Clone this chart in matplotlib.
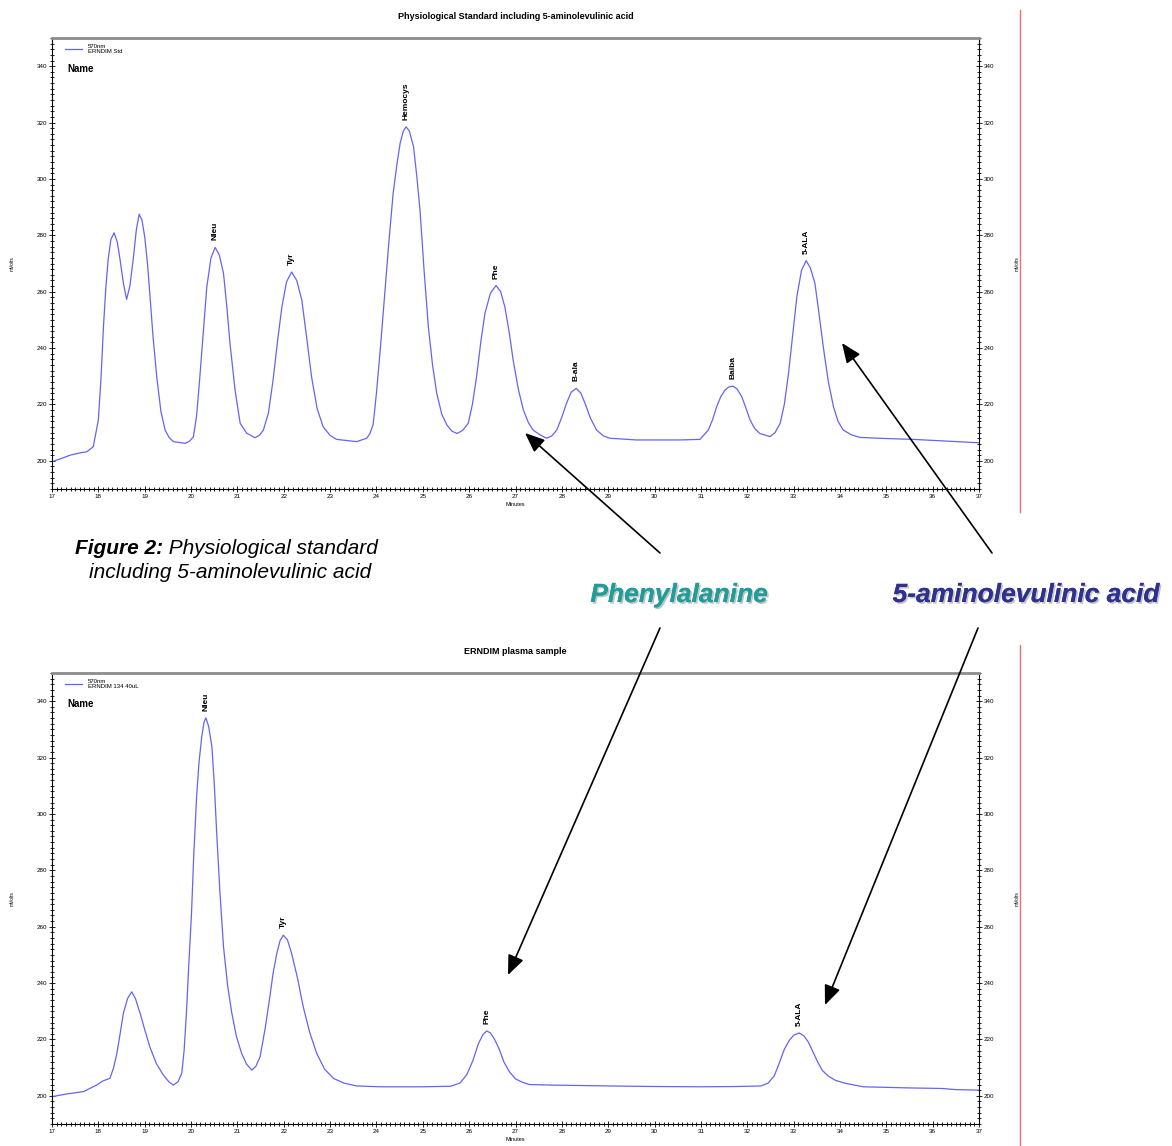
import numpy as np
import matplotlib
matplotlib.use("Agg")
import matplotlib.pyplot as plt
from matplotlib.patches import FancyArrowPatch
from matplotlib.lines import Line2D
from matplotlib.ticker import MultipleLocator
import matplotlib.patheffects as pe

plt.rcParams['font.family'] = ['Liberation Sans', 'DejaVu Sans']

# --- physiological standard trace (minutes, mVolts)
t_std = [17.00, 17.20, 17.39, 17.60, 17.75, 17.89, 18.00, 18.06, 18.11, 18.16, 18.21, 18.27, 18.34, 18.41,
         18.47, 18.54, 18.61, 18.68, 18.75, 18.82, 18.88, 18.94, 19.00, 19.06, 19.11, 19.18, 19.26, 19.35,
         19.44, 19.53, 19.62, 19.87, 19.97, 20.05, 20.12, 20.19, 20.27, 20.34, 20.43, 20.52, 20.61, 20.70,
         20.77, 20.84, 20.95, 21.06, 21.20, 21.38, 21.47, 21.56, 21.67, 21.77, 21.87, 21.96, 22.06, 22.17,
         22.28, 22.39, 22.50, 22.60, 22.72, 22.85, 23.00, 23.14, 23.57, 23.79, 23.86, 23.93, 24.00, 24.09,
         24.18, 24.27, 24.36, 24.44, 24.51, 24.58, 24.64, 24.71, 24.80, 24.87, 24.94, 25.03, 25.12, 25.21,
         25.30, 25.41, 25.52, 25.63, 25.74, 25.86, 25.98, 26.07, 26.16, 26.25, 26.34, 26.46, 26.58, 26.68,
         26.77, 26.86, 26.95, 27.06, 27.17, 27.28, 27.38, 27.52, 27.67, 27.78, 27.89, 28.00, 28.10, 28.20,
         28.31, 28.41, 28.50, 28.62, 28.75, 28.90, 29.04, 29.61, 30.55, 30.98, 31.16, 31.25, 31.34, 31.43,
         31.52, 31.60, 31.69, 31.78, 31.88, 31.97, 32.06, 32.16, 32.27, 32.49, 32.60, 32.71, 32.80, 32.89,
         32.98, 33.07, 33.17, 33.27, 33.36, 33.46, 33.55, 33.64, 33.75, 33.86, 33.96, 34.07, 34.25, 34.43,
         35.00, 35.58, 36.30, 37.00]
mv_std = [199.7, 200.8, 202.0, 202.8, 203.2, 205.0, 214.5, 230.0, 247.5, 261.0, 271.2, 278.5, 280.9, 277.5,
          271.2, 263.0, 257.3, 262.0, 271.2, 282.0, 287.5, 285.5, 279.5, 270.0, 259.4, 244.0, 229.8, 217.5,
          210.9, 208.2, 206.8, 206.2, 207.0, 208.5, 216.0, 229.8, 247.0, 261.7, 272.0, 275.7, 273.0, 266.5,
          255.0, 241.7, 225.0, 213.3, 209.8, 208.2, 209.0, 210.9, 217.0, 228.7, 243.0, 254.6, 263.5, 267.0,
          264.0, 257.0, 243.0, 229.8, 218.5, 212.1, 209.0, 207.6, 206.8, 208.0, 209.7, 213.0, 224.0, 241.0,
          259.4, 278.0, 294.9, 305.0, 312.6, 317.0, 318.5, 317.0, 311.4, 301.0, 288.9, 267.0, 247.5, 234.0,
          224.0, 216.5, 212.7, 210.5, 209.7, 210.8, 213.3, 220.0, 229.8, 242.0, 252.3, 259.5, 262.2, 260.0,
          254.6, 246.0, 235.7, 225.5, 218.0, 213.5, 210.9, 209.3, 208.0, 208.8, 210.9, 215.5, 220.4, 224.3,
          225.7, 224.0, 220.4, 215.0, 210.9, 208.8, 208.0, 207.4, 207.4, 207.6, 210.9, 214.5, 219.2, 222.8,
          225.1, 226.2, 226.5, 225.5, 222.8, 218.8, 214.5, 211.5, 209.7, 208.6, 210.0, 213.3, 220.0, 231.0,
          244.5, 258.2, 267.5, 271.0, 268.5, 263.0, 252.0, 240.5, 228.0, 219.2, 214.0, 210.9, 209.2, 208.3,
          207.9, 207.6, 207.0, 206.4]

# --- ERNDIM plasma sample trace
t_pl = [17.00, 17.30, 17.68, 17.96, 18.10, 18.25, 18.33, 18.40, 18.47, 18.54, 18.63, 18.72, 18.80, 18.90,
        19.00, 19.11, 19.25, 19.40, 19.52, 19.62, 19.72, 19.80, 19.85, 19.90, 19.95, 20.01, 20.06, 20.12,
        20.17, 20.23, 20.28, 20.32, 20.38, 20.45, 20.50, 20.55, 20.62, 20.70, 20.79, 20.88, 20.98, 21.09,
        21.20, 21.31, 21.40, 21.49, 21.60, 21.70, 21.77, 21.85, 21.92, 21.99, 22.08, 22.17, 22.30, 22.42,
        22.56, 22.71, 22.88, 23.07, 23.30, 23.57, 24.08, 25.00, 25.60, 25.80, 25.95, 26.08, 26.20, 26.30,
        26.38, 26.46, 26.55, 26.65, 26.75, 26.87, 27.00, 27.15, 27.30, 27.80, 29.00, 30.00, 31.00, 31.80,
        32.30, 32.45, 32.58, 32.70, 32.80, 32.90, 33.00, 33.12, 33.22, 33.32, 33.42, 33.52, 33.62, 33.75,
        33.90, 34.10, 34.50, 35.00, 35.50, 36.20, 36.50, 37.00]
mv_pl = [199.7, 200.6, 201.5, 203.8, 205.3, 206.2, 210.0, 215.1, 222.0, 229.3, 234.5, 236.9, 234.5, 229.3,
         223.5, 217.4, 211.5, 207.4, 205.0, 203.8, 205.0, 208.0, 216.0, 229.3, 246.0, 264.7, 286.0, 306.1,
         318.0, 327.3, 332.5, 334.1, 331.0, 323.8, 311.0, 294.3, 273.0, 252.9, 239.0, 229.3, 221.0, 215.1,
         211.2, 209.1, 210.5, 213.9, 224.0, 235.1, 243.5, 250.5, 255.0, 257.0, 255.3, 250.5, 241.5, 231.6,
         222.5, 215.1, 209.5, 206.2, 204.5, 203.5, 203.2, 203.2, 203.4, 204.5, 207.5, 212.5, 218.5, 221.8,
         223.0, 222.3, 220.0, 216.5, 212.0, 208.5, 206.0, 204.8, 204.0, 203.8, 203.5, 203.3, 203.2, 203.3,
         203.5, 204.5, 207.0, 212.0, 216.5, 219.5, 221.5, 222.3, 221.3, 219.0, 215.5, 212.0, 209.0, 207.0,
         205.5, 204.5, 203.2, 203.0, 202.8, 202.6, 202.2, 202.0]

std_names = ["Nleu", "Tyr", "Hemocys", "Phe", "B-ala", "Baiba", "5-ALA"]
std_times = [20.52, 22.17, 24.64, 26.58, 28.31, 31.69, 33.27]
pl_names = ["Nleu", "Tyr", "Phe", "5-ALA"]
pl_times = [20.32, 21.99, 26.38, 33.12]

W, H = 1172, 1146
fig = plt.figure(figsize=(W / 100, H / 100), dpi=100)


def fx(px):
    return px / W


def fy(py):
    return 1 - py / H


def chrom(ax, t, mv, names, times, title, sample):
    line, = ax.plot(t, mv, color='#6464f5', lw=0.9, label='570nm\n' + sample)
    ax.set_xlim(17, 37)
    ax.set_ylim(190, 350)
    ax.xaxis.set_major_locator(MultipleLocator(1))
    ax.xaxis.set_minor_locator(MultipleLocator(0.1))
    ax.yaxis.set_minor_locator(MultipleLocator(2))
    ax.set_yticks(np.arange(200, 341, 20))
    ax.tick_params(which='both', direction='inout', width=0.6, labelsize=4.5,
                   right=True, labelright=True, top=False, pad=1.5)
    ax.tick_params(which='major', length=4)
    ax.tick_params(which='minor', length=2.2)
    for s in ['left', 'right', 'bottom']:
        ax.spines[s].set_linewidth(0.8)
    ax.spines['top'].set_color('#8c8c8c')
    ax.spines['top'].set_linewidth(2)
    ax.set_title(title, fontsize=6.5, fontweight='bold', pad=14)
    ax.set_xlabel('Minutes', fontsize=4, labelpad=2)
    ax.text(-0.043, 0.5, 'mVolts', transform=ax.transAxes, rotation=90,
            fontsize=3.5, ha='center', va='center')
    ax.text(1.041, 0.5, 'mVolts', transform=ax.transAxes, rotation=90,
            fontsize=3.5, ha='center', va='center')
    for name, tp in zip(names, times):
        yp = np.interp(tp, t, mv)
        ax.annotate(name, (tp, yp), xytext=(0, 5), textcoords='offset points',
                    rotation=90, ha='center', va='bottom', fontsize=6, fontweight='bold')
    ax.legend(handles=[line], loc='upper left', bbox_to_anchor=(0.01, 0.997), frameon=False,
              fontsize=4.3, handlelength=2.8, handletextpad=1.0, borderpad=0.2, labelspacing=0)
    ax.text(0.017, 0.942, 'Name', transform=ax.transAxes, fontsize=7,
            fontweight='bold', ha='left', va='top')


ax1 = fig.add_axes([fx(52), fy(489), fx(979) - fx(52), fy(38) - fy(489)])
chrom(ax1, t_std, mv_std, std_names, std_times,
      'Physiological Standard including 5-aminolevulinic acid', 'ERNDIM Std')

ax2 = fig.add_axes([fx(52), fy(1124), fx(979) - fx(52), fy(673) - fy(1124)])
chrom(ax2, t_pl, mv_pl, pl_names, pl_times, 'ERNDIM plasma sample', 'ERNDIM 134 40uL')

# red vertical page lines
fig.add_artist(Line2D([fx(1020), fx(1020)], [fy(10), fy(512)], color='#f07070', lw=1))
fig.add_artist(Line2D([fx(1020), fx(1020)], [fy(645), fy(1146)], color='#f07070', lw=1))

# figure caption
cap1 = fig.text(fx(75), fy(548), 'Figure 2:', fontsize=15, fontweight='bold',
                style='italic', ha='left', va='center')
fig.canvas.draw()
bb = cap1.get_window_extent()
fig.text(bb.x1 / W, fy(548), ' Physiological standard', fontsize=15, style='italic',
         ha='left', va='center')
fig.text(fx(230), fy(573), 'including 5-aminolevulinic acid', fontsize=15, style='italic',
         ha='center', va='center')

shadow = [pe.withSimplePatchShadow(offset=(1.2, -1.2), shadow_rgbFace='#9a9a9a', alpha=0.6),
          pe.Normal()]
fig.text(fx(679), fy(595), 'Phenylalanine', fontsize=19, fontweight='bold', style='italic',
         color='#1f9d9a', ha='center', va='center', path_effects=shadow)
fig.text(fx(1026), fy(595), '5-aminolevulinic acid', fontsize=19, fontweight='bold',
         style='italic', color='#2e3192', ha='center', va='center', path_effects=shadow)

# arrows from the labels to the peaks
arrows = [((660, 553), (525, 433)), ((992, 553), (842, 343)),
          ((660, 628), (508, 975)), ((978, 628), (825, 1005))]
for (x0, y0), (x1, y1) in arrows:
    fig.add_artist(FancyArrowPatch((fx(x0), fy(y0)), (fx(x1), fy(y1)),
                                   transform=fig.transFigure, arrowstyle='-|>,head_length=0.6,head_width=0.25',
                                   mutation_scale=20, color='black', lw=1.2, shrinkA=0, shrinkB=0))

fig.savefig('out.png', dpi=100)
